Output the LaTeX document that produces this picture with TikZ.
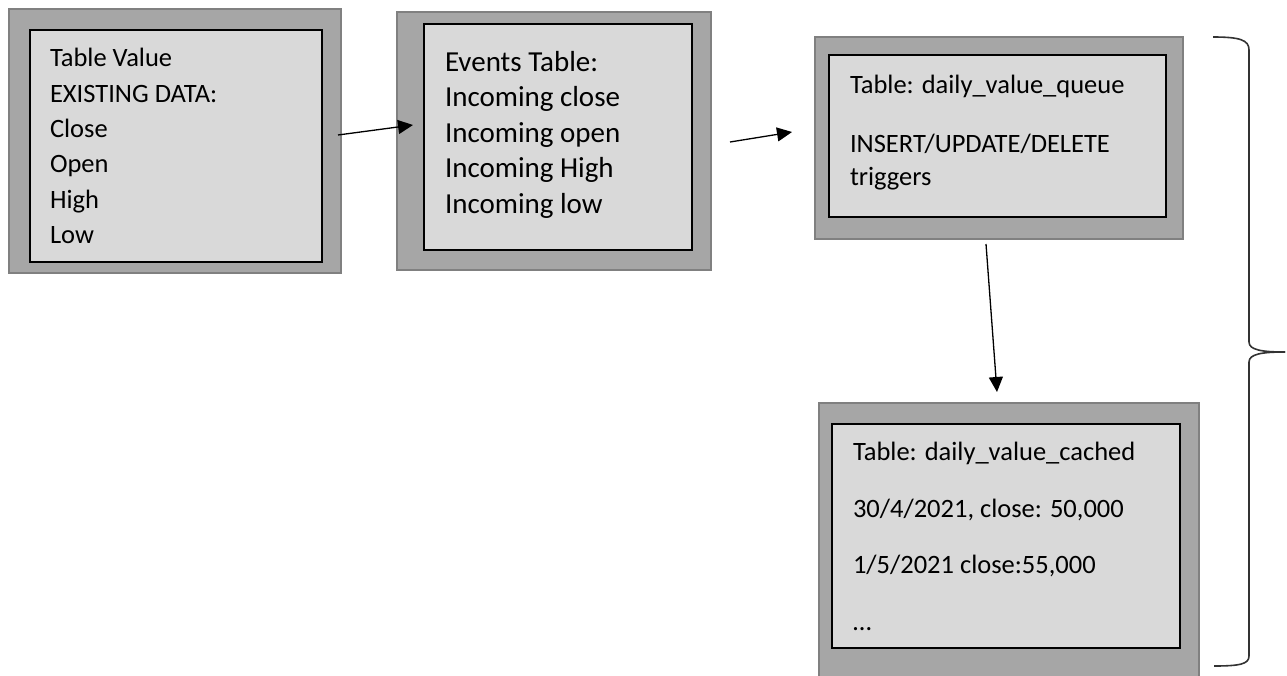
\documentclass[tikz,border=0pt]{standalone}
\usepackage{fontspec}
\setmainfont{Carlito}
\usetikzlibrary{arrows.meta}
\definecolor{outerfill}{HTML}{A6A6A6}
\definecolor{outerline}{HTML}{808080}
\definecolor{innerfill}{HTML}{D9D9D9}
\tikzset{
  outerbox/.style={draw=outerline, fill=outerfill, line width=2.5pt, anchor=north west, inner sep=0pt, outer sep=0pt},
  innerbox/.style={draw=black, fill=innerfill, line width=1.3pt, anchor=north west, inner sep=0pt, outer sep=0pt},
  txt/.style={anchor=base west, inner sep=0pt, outer sep=0pt, font=\fontsize{26.5}{30}\selectfont},
  bigtxt/.style={anchor=base west, inner sep=0pt, outer sep=0pt, font=\fontsize{29}{33}\selectfont},
  conn/.style={line width=1.3pt, -{Triangle[length=15pt,width=14pt]}},
  bracestyle/.style={line width=1.6pt, draw=black!80}
}
\begin{document}
\begin{tikzpicture}[x=1pt,y=-1pt]
\useasboundingbox (0,0) rectangle (1287,675);
% Box 1
\node[outerbox, minimum width=332pt, minimum height=264pt] (b1o) at (9,9) {};
\node[innerbox, minimum width=292pt, minimum height=232pt] (b1i) at (30,30) {};
\node[txt] (b1t1) at (50,66.8) {Table Value};
\node[txt] (b1t2) at (50,102.1) {EXISTING DATA:};
\node[txt] (b1t3) at (50,137.4) {Close};
\node[txt] (b1t4) at (50,172.7) {Open};
\node[txt] (b1t5) at (50,208.0) {High};
\node[txt] (b1t6) at (50,243.3) {Low};
% Box 2
\node[outerbox, minimum width=314pt, minimum height=258pt] (b2o) at (397,12) {};
\node[innerbox, minimum width=268pt, minimum height=226pt] (b2i) at (424,24) {};
\node[bigtxt] (b2t1) at (445,71.3) {Events Table:};
\node[bigtxt] (b2t2) at (445,106.8) {Incoming close};
\node[bigtxt] (b2t3) at (445,142.3) {Incoming open};
\node[bigtxt] (b2t4) at (445,177.8) {Incoming High};
\node[bigtxt] (b2t5) at (445,213.3) {Incoming low};
% Box 3
\node[outerbox, minimum width=368pt, minimum height=202pt] (b3o) at (815,37) {};
\node[innerbox, minimum width=337pt, minimum height=162pt] (b3i) at (829,55) {};
\node[txt] (b3t1) at (850,93.5) {Table: daily\_value\_queue};
\node[txt] (b3t2) at (850,152.5) {INSERT/UPDATE/DELETE};
\node[txt] (b3t3) at (850,185.5) {triggers};
% Box 4
\node[outerbox, minimum width=380pt, minimum height=275pt] (b4o) at (819,403) {};
\node[innerbox, minimum width=348pt, minimum height=224pt] (b4i) at (832,424) {};
\node[txt] (b4t1) at (853,460.5) {Table: daily\_value\_cached};
\node[txt] (b4t2) at (853,517) {30/4/2021, close: 50,000};
\node[txt] (b4t3) at (853,573.5) {1/5/2021 close:55,000};
\node[txt] (b4t4) at (853,630) {…};
% Connectors
\coordinate (a1s) at (338,135);
\coordinate (a1e) at (413,125);
\coordinate (a2s) at (730,142);
\coordinate (a2e) at (792,132);
\coordinate (a3s) at (986,244);
\coordinate (a3e) at (997,392);
\draw[conn] (a1s) -- (a1e);
\draw[conn] (a2s) -- (a2e);
\draw[conn] (a3s) -- (a3e);
% Brace
\coordinate (brtop) at (1213,37);
\coordinate (brtip) at (1285,352);
\coordinate (brbot) at (1214,666);
\draw[bracestyle] (brtop) .. controls (1240,37) and (1249,40) .. (1249,50)
  -- (1249,342) .. controls (1249,350) and (1262,352) .. (brtip);
\draw[bracestyle] (brtip) .. controls (1262,352) and (1249,354) .. (1249,362)
  -- (1249,656) .. controls (1249,664) and (1240,666) .. (brbot);
\end{tikzpicture}
\end{document}
